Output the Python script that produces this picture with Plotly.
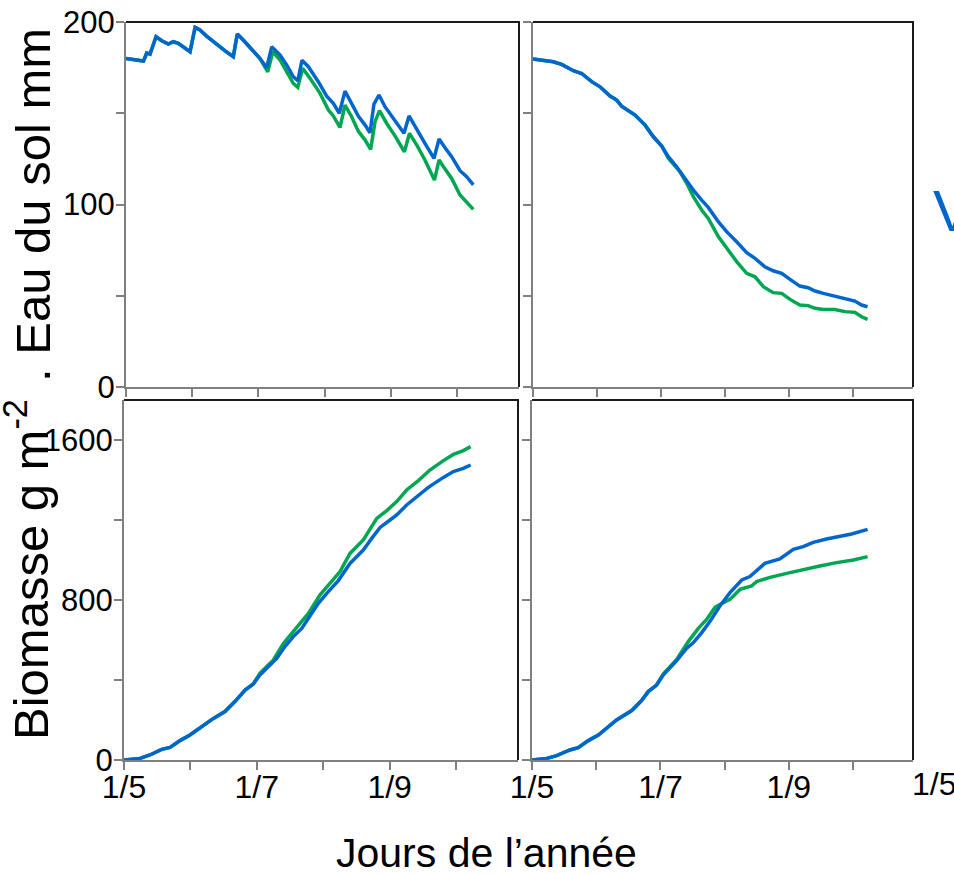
import plotly.graph_objects as go

W, H = 954, 874
OFF = 0
BLUE = "#0066CC"
GREEN = "#00A651"
FONT = "Liberation Sans, Arial, sans-serif"

# ---------------- data (day 0 = 1 May) ----------------
# Top-left: soil water (mm)
tl_blue_x = [0, 7.9, 9.4, 10.9, 13.6, 16.2, 19.2, 21.4, 23.7, 29, 31.3, 33.5, 36.5, 38.8, 41.1, 44.9, 48.6,
             50.4, 53.2, 57.7, 60.7, 63.7, 66, 69.8, 72.8, 75.8, 77.8, 79.7, 82.6, 87.1, 90.9, 93.9, 96.6,
             99.2, 102.2, 105.2, 108.3, 110.5, 112.3, 114.6, 117.3, 121.1, 125.9, 128.2, 130.9, 135.4,
             139.5, 141.8, 144.5, 147.5, 151.3, 154.3, 157.3]
tl_blue_y = [180, 178.6, 183, 182.4, 191.9, 189.7, 187.9, 189.2, 188.3, 183.7, 197, 195.6, 192.3, 190, 187.4,
             184.2, 181, 193.4, 190, 183.7, 180, 175, 186.4, 181.9, 176.4, 170, 167.8, 179, 175.5, 167.3,
             159.4, 155.4, 150, 162.1, 155.4, 148.5, 143.5, 139.3, 155, 160, 153.6, 147.2, 139, 148.5, 142.6,
             133.5, 125.3, 135.9, 131.1, 126.2, 118.5, 115.2, 110.7]
tl_green_x = [0, 7.9, 9.4, 10.9, 13.6, 16.2, 19.2, 21.4, 23.7, 29, 31.3, 33.5, 36.5, 38.8, 41.1, 44.9, 48.6,
              50.4, 53.2, 57.7, 60.7, 64.2, 66.5, 69.8, 73.6, 75.8, 77.8, 80, 83.4, 87.9, 91.7, 93.9, 96.9,
              99.2, 102.2, 105.2, 108.3, 110.8, 112.8, 114.8, 118.1, 121.9, 126.1, 128.4, 131.7, 135.4,
              139.7, 141.8, 143.8, 147.5, 151.3, 154.3, 157.3]
tl_green_y = [180, 178.6, 183, 182.4, 191.9, 189.7, 187.9, 189.2, 188.3, 183.7, 197, 195.6, 192.3, 190, 187.4,
              184.2, 181, 193.4, 190, 183.7, 180, 172.7, 183.7, 179.1, 170.9, 166.3, 164.2, 174.6, 169.1,
              160.9, 151.7, 148.5, 142.2, 154.5, 148.1, 140.2, 135.3, 130.2, 145.4, 151.4, 144.4, 137.5,
              128.9, 139, 132.6, 124.4, 113.4, 124.4, 120.7, 114.3, 105.2, 101.5, 97.3]

# Top-right: soil water (mm)
tr_blue_x = [0, 9.5, 13.4, 18.9, 22.8, 27.5, 31.4, 36.1, 39.2, 41.5, 47.8, 52.5, 56.4, 60.3, 63.4, 67.3,
             71.2, 75.1, 79, 82.1, 86.8, 90.7, 95.4, 100.1, 104, 108.6, 112.5, 116.5, 120.4, 125, 128.9,
             132.1, 136, 141.4, 146.1, 150.8, 153.9, 156.7]
tr_blue_y = [179.7, 178.2, 176.8, 173.3, 171.8, 167.3, 164.5, 159.4, 157.2, 153.9, 149, 143.5, 137.1, 132,
             126.2, 120.7, 114.3, 107.9, 102.4, 98.4, 90.6, 85.1, 79.6, 73.6, 70.5, 65.9, 63.7, 62.3, 59,
             55.3, 54.4, 52.6, 51.3, 49.8, 48, 47.1, 44.9, 44]
tr_green_x = [0, 9.5, 13.4, 18.9, 22.8, 27.5, 31.4, 36.1, 39.2, 41.5, 47.8, 52.5, 56.4, 60.3, 63.4, 68.8,
              72, 75.1, 79, 82.1, 86.8, 90.7, 95.4, 100.1, 104, 107.9, 112.5, 116.5, 120.4, 125, 128.9,
              132.1, 136, 141.4, 146.1, 150.8, 153.9, 156.7]
tr_green_y = [179.7, 178.2, 176.8, 173.3, 171.8, 167.3, 164.5, 159.4, 157.2, 153.9, 149, 143.5, 137.1, 132,
              125.3, 118, 111.6, 104.3, 97, 92.4, 82.4, 76, 68.7, 62.3, 60.4, 55, 51.7, 51.3, 48, 44.9,
              44.6, 43.1, 42.5, 42.5, 41.3, 40.9, 38.5, 37.1]

# Bottom-left: biomass (g m-2)
bl_blue_x = [0, 7.2, 11.7, 17, 20.8, 25.3, 29.8, 35.8, 40.4, 45.6, 50.1, 54.7, 58.4, 61.4, 65.2, 69,
             72.7, 76.5, 80.3, 84, 87.8, 91.6, 96.8, 102.1, 108.1, 111.9, 115.7, 120.2, 123.2, 127.7,
             132.2, 137.5, 144.3, 148.8, 153.3, 156.6]
bl_blue_y = [0, 8, 25, 53, 63, 97, 125, 175, 208, 242, 292, 350, 380, 425, 467, 508, 567, 617, 658, 717,
             783, 833, 897, 983, 1050, 1108, 1163, 1200, 1225, 1275, 1313, 1363, 1413, 1442, 1458, 1475]
bl_green_x = [0, 7.2, 11.7, 17, 20.8, 25.3, 29.8, 35.8, 40.4, 45.6, 50.1, 54.7, 58.4, 61.4, 67.5, 72,
              77.3, 83.3, 88.5, 93.1, 97.6, 102.1, 108.1, 114.2, 118.7, 123.2, 127.7, 133, 138.2, 144.3,
              148.8, 153.3, 156.6]
bl_green_y = [0, 8, 25, 53, 63, 97, 125, 175, 208, 242, 292, 350, 380, 433, 500, 583, 653, 733, 825, 887,
              942, 1033, 1100, 1208, 1247, 1292, 1350, 1397, 1450, 1497, 1528, 1547, 1567]

# Bottom-right: biomass (g m-2)
br_blue_x = [0, 6.9, 11.5, 17.7, 21.6, 26.3, 31, 36.4, 39.5, 46.6, 51.2, 54.3, 58.2, 61.3, 67.6, 72.2,
             75.4, 79.3, 83.1, 87.8, 92.5, 98, 101.8, 108.8, 115.8, 122.1, 126.7, 131.4, 137.6, 149.3, 156.8]
br_blue_y = [0, 8, 22, 50, 62, 97, 125, 170, 200, 247, 297, 342, 375, 425, 497, 558, 587, 637, 692, 770,
             837, 900, 917, 983, 1005, 1053, 1067, 1088, 1105, 1130, 1153]
br_green_x = [0, 6.9, 11.5, 17.7, 21.6, 26.3, 31, 36.4, 39.5, 46.6, 51.2, 54.3, 58.2, 61.3, 67.6, 73,
              77.7, 81.6, 85.5, 89.4, 92.5, 97.2, 102.6, 104.9, 111.2, 119, 126.7, 134.5, 142.3, 150.1, 156.8]
br_green_y = [0, 8, 22, 50, 62, 97, 125, 170, 200, 247, 297, 342, 375, 430, 503, 592, 658, 703, 763, 787,
              803, 853, 870, 892, 913, 933, 953, 970, 987, 1000, 1017]

x_tickvals = [0, 30, 60, 90, 120, 150]
x_ticktext = ["1/5", "", "1/7", "", "1/9", ""]
water_tickvals = [0, 50, 100, 150, 200]
water_ticktext = ["0", "", "100", "", "200"]
bio_tickvals = [0, 400, 800, 1200, 1600]
bio_ticktext = ["0", "", "800", "", "1600"]

# ---------------- layout helpers (window pixel coords -> paper) ----------------
def px_x(p):
    return (p - OFF) / W


def px_y(p):
    return 1 - (p - OFF) / H


panels = {
    # name: (left, right, top, bottom) in window pixels
    "tl": (126, 519, 22, 387),
    "tr": (533, 913, 22, 387),
    "bl": (124, 518, 400, 760),
    "br": (532, 913, 400, 760),
}
order = ["tl", "tr", "bl", "br"]

fig = go.Figure()

series = {
    "tl": [(tl_green_x, tl_green_y, GREEN), (tl_blue_x, tl_blue_y, BLUE)],
    "tr": [(tr_green_x, tr_green_y, GREEN), (tr_blue_x, tr_blue_y, BLUE)],
    "bl": [(bl_green_x, bl_green_y, GREEN), (bl_blue_x, bl_blue_y, BLUE)],
    "br": [(br_green_x, br_green_y, GREEN), (br_blue_x, br_blue_y, BLUE)],
}

AXC = "#808080"
layout_axes = {}
shapes = []
for i, name in enumerate(order, start=1):
    l, r, t, b = panels[name]
    xa = "x" if i == 1 else f"x{i}"
    ya = "y" if i == 1 else f"y{i}"
    for xs, ys, col in series[name]:
        fig.add_trace(go.Scatter(x=xs, y=ys, mode="lines", xaxis=xa, yaxis=ya,
                                 line=dict(color=col, width=3.5), showlegend=False,
                                 hoverinfo="skip"))
    top = name in ("tl", "tr")
    left = name in ("tl", "bl")
    layout_axes["xaxis" if i == 1 else f"xaxis{i}"] = dict(
        domain=[px_x(l), px_x(r)], anchor=ya, range=[0, 178], automargin=False,
        tickvals=x_tickvals, ticktext=x_ticktext if not top else [""] * 6,
        ticks="outside", ticklen=8, tickcolor=AXC, tickwidth=1.5,
        ticklabeloverflow="allow", ticklabelstandoff=-10,
        showline=True, linecolor=AXC, linewidth=2, showgrid=False, zeroline=False,
        tickfont=dict(family=FONT, size=32, color="black"), fixedrange=True)
    layout_axes["yaxis" if i == 1 else f"yaxis{i}"] = dict(
        domain=[px_y(b), px_y(t)], anchor=xa, automargin=False,
        range=[0, 200] if top else [0, 1800],
        tickvals=water_tickvals if top else bio_tickvals,
        ticktext=(water_ticktext if top else bio_ticktext) if left else [""] * 5,
        ticks="outside", ticklen=8, tickcolor=AXC, tickwidth=1.5,
        ticklabeloverflow="allow", ticklabelstandoff=-5,
        showline=True, linecolor=AXC, linewidth=2, showgrid=False, zeroline=False,
        tickfont=dict(family=FONT, size=31, color="black"), fixedrange=True)
    # black top and right frame lines
    shapes.append(dict(type="line", xref="paper", yref="paper", x0=px_x(l), x1=px_x(r) + 1 / W,
                       y0=px_y(t), y1=px_y(t), line=dict(color="#1a1a1a", width=2)))
    shapes.append(dict(type="line", xref="paper", yref="paper", x0=px_x(r), x1=px_x(r),
                       y0=px_y(b), y1=px_y(t), line=dict(color="#1a1a1a", width=2)))

annotations = [
    dict(text=". Eau du sol mm", x=px_x(33), y=px_y(205), xref="paper", yref="paper",
         textangle=-90, showarrow=False, font=dict(family=FONT, size=49, color="black"),
         xanchor="center", yanchor="middle"),
    dict(text="Biomasse g m<sup>-2</sup>", x=px_x(27), y=px_y(570), xref="paper", yref="paper",
         textangle=-90, showarrow=False, font=dict(family=FONT, size=49, color="black"),
         xanchor="center", yanchor="middle"),
    dict(text="Jours de l\u2019année", x=px_x(486), y=px_y(853), xref="paper", yref="paper",
         showarrow=False, font=dict(family=FONT, size=41, color="black"),
         xanchor="center", yanchor="middle"),
    dict(text="1/5", x=px_x(934), y=px_y(784), xref="paper", yref="paper",
         showarrow=False, font=dict(family=FONT, size=32, color="black"),
         xanchor="center", yanchor="middle"),
    dict(text="V", x=px_x(931), y=px_y(210), xref="paper", yref="paper",
         showarrow=False, font=dict(family=FONT, size=58, color=BLUE),
         xanchor="left", yanchor="middle"),
]

fig.update_layout(
    width=W, height=H, margin=dict(l=0, r=0, t=0, b=0, autoexpand=False),
    paper_bgcolor="white", plot_bgcolor="white",
    shapes=shapes, annotations=annotations, showlegend=False,
    **layout_axes,
)

fig.write_html(
    "out.html",
    config={"displayModeBar": False},
    post_script="document.body.style.margin='0';document.body.style.overflow='hidden';",
)
